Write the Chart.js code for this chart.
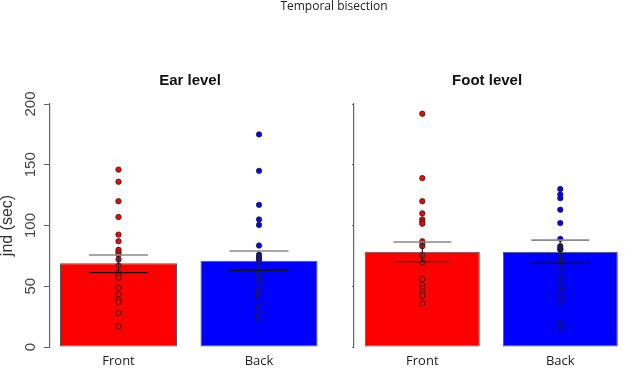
<!DOCTYPE html>
<html>
<head>
<meta charset="utf-8">
<script src="https://cdn.jsdelivr.net/npm/chart.js@4.4.1/dist/chart.umd.min.js"></script>
<style>
  html, body { margin: 0; padding: 0; background: #fff; }
  #wrap { position: relative; width: 625px; height: 368px; overflow: hidden; }
  canvas { position: absolute; left: 0; top: 0; }
</style>
</head>
<body>
<div id="wrap">
  <canvas id="left" width="625" height="368"></canvas>
  <canvas id="right" width="625" height="368"></canvas>
</div>
<script>
// ---- data ----
const mainTitle = 'Temporal bisection';
const panelTitles = ['Ear level', 'Foot level'];
const categories = ['Front', 'Back'];
const yTicks = [0, 50, 100, 150, 200];
const yLabel = 'jnd (sec)';

const earMeans = [68.9, 71.0];
const earErrLow = [61.2, 63.1];
const earErrHigh = [75.7, 79.0];
const footMeans = [78.4, 78.4];
const footErrLow = [70.2, 69.1];
const footErrHigh = [86.4, 88.0];

const earFront = [146, 136, 120, 107, 92.5, 87, 80, 78, 76, 72, 67, 61, 59, 57, 49, 43.5, 39, 37, 28, 17];
const earBack = [175, 145, 117, 105, 100.5, 83.5, 76, 74, 73, 71, 60.5, 58, 53, 46, 43.5, 41, 32.7, 26, 24];
const footFront = [192, 139, 120, 110, 105, 103, 101.5, 87, 85, 83, 75.7, 69.5, 56, 51, 48.3, 45.7, 43.6, 42, 36];
const footBack = [130, 125.5, 122.5, 113, 102, 89, 83, 81, 80, 71, 65.3, 57.2, 55, 48.7, 46.2, 39.6, 37, 20, 15.6];

const barColors = ['#ff0000', '#0000ff'];

// ---- plugins ----
const errorBarPlugin = {
  id: 'errorBars',
  afterDatasetsDraw(chart, args, opts) {
    const ctx = chart.ctx, xs = chart.scales.x, ys = chart.scales.y;
    ctx.save();
    opts.low.forEach((lo, i) => {
      const hi = opts.high[i];
      const xc = xs.getPixelForValue(i);
      const xl = xs.getPixelForValue(i - opts.capHalf);
      const xr = xs.getPixelForValue(i + opts.capHalf);
      const yl = ys.getPixelForValue(lo), yh = ys.getPixelForValue(hi);
      ctx.lineWidth = 1.2;
      ctx.strokeStyle = '#222';
      ctx.beginPath(); ctx.moveTo(xc, yh); ctx.lineTo(xc, yl); ctx.stroke();
      ctx.strokeStyle = '#111';
      ctx.beginPath(); ctx.moveTo(xl, yl); ctx.lineTo(xr, yl); ctx.stroke();
      ctx.strokeStyle = '#8a8a8a';
      ctx.lineWidth = 1.6;
      ctx.beginPath(); ctx.moveTo(xl, yh); ctx.lineTo(xr, yh); ctx.stroke();
    });
    ctx.restore();
  }
};

const titlesPlugin = {
  id: 'panelTitles',
  afterDraw(chart, args, opts) {
    const ctx = chart.ctx, ca = chart.chartArea;
    ctx.save();
    ctx.fillStyle = '#111';
    ctx.textAlign = 'center';
    ctx.textBaseline = 'middle';
    ctx.font = 'bold 15px "Liberation Sans", Arial, sans-serif';
    ctx.fillText(opts.text, (ca.left + ca.right) / 2, opts.y);
    if (opts.main) {
      ctx.font = '12px "Open Sans", sans-serif';
      ctx.fillStyle = '#222';
      ctx.fillText(opts.main, opts.mainX, opts.mainY);
    }
    ctx.restore();
  }
};

function makeChart(id, title, means, lo, hi, ptsA, ptsB, xmin, xmax, yWidth, padRight, showYLabels, mainT) {
  const barData = means.map((v, i) => ({ x: i, y: v }));
  const pA = ptsA.map(v => ({ x: 0, y: v }));
  const pB = ptsB.map(v => ({ x: 1, y: v }));
  return new Chart(document.getElementById(id), {
    type: 'bar',
    data: {
      datasets: [
        {
          type: 'scatter', data: pA, order: 0,
          pointRadius: 2.7, pointBorderWidth: 0.8,
          pointBackgroundColor: barColors[0], pointBorderColor: '#222'
        },
        {
          type: 'scatter', data: pB, order: 0,
          pointRadius: 2.7, pointBorderWidth: 0.8,
          pointBackgroundColor: barColors[1], pointBorderColor: '#222'
        },
        {
          type: 'bar', data: barData, order: 1,
          backgroundColor: barColors, borderColor: '#555', borderWidth: 1,
          borderSkipped: false,
          categoryPercentage: 1, barPercentage: 0.833
        }
      ]
    },
    options: {
      responsive: false, animation: false, devicePixelRatio: 1,
      layout: { padding: { left: 0, right: padRight, top: 104, bottom: 0 } },
      plugins: {
        legend: { display: false }, tooltip: { enabled: false },
        errorBars: { low: lo, high: hi, capHalf: 0.21 },
        panelTitles: { text: title, y: 81, main: mainT, mainX: 334, mainY: 7 }
      },
      scales: {
        x: {
          type: 'linear', min: xmin, max: xmax, offset: false,
          grid: { display: false, drawTicks: false },
          border: { display: false },
          afterBuildTicks: s => { s.ticks = categories.map((c, i) => ({ value: i })); },
          afterFit: s => { s.height = 21; },
          ticks: {
            padding: 6, color: '#222',
            font: { family: '"Open Sans", sans-serif', size: 13 },
            callback: v => categories[v]
          }
        },
        y: {
          min: 0, max: 200,
          afterBuildTicks: s => { s.ticks = yTicks.map(v => ({ value: v })); },
          afterFit: s => { s.width = yWidth; },
          grid: { drawOnChartArea: false, drawTicks: true, tickLength: showYLabels ? 6 : 2, color: '#666' },
          border: { display: true, color: '#666', width: 1.2 },
          ticks: {
            display: showYLabels, minRotation: 90, maxRotation: 90,
            crossAlign: 'center', padding: 1, color: '#444',
            font: { family: '"Liberation Sans", Arial, sans-serif', size: 15 }
          },
          title: {
            display: showYLabels, text: yLabel, color: '#333',
            padding: { top: 0, bottom: 0 },
            font: { family: '"Liberation Sans", Arial, sans-serif', size: 16, lineHeight: 1 }
          }
        }
      }
    },
    plugins: [errorBarPlugin, titlesPlugin]
  });
}

makeChart('left', panelTitles[0], earMeans, earErrLow, earErrHigh, earFront, earBack,
  -0.4875, 1.505, 50, 295, true, mainTitle);
makeChart('right', panelTitles[1], footMeans, footErrLow, footErrHigh, footFront, footBack,
  -0.495, 1.434, 354, 0, false, null);
</script>
</body>
</html>
